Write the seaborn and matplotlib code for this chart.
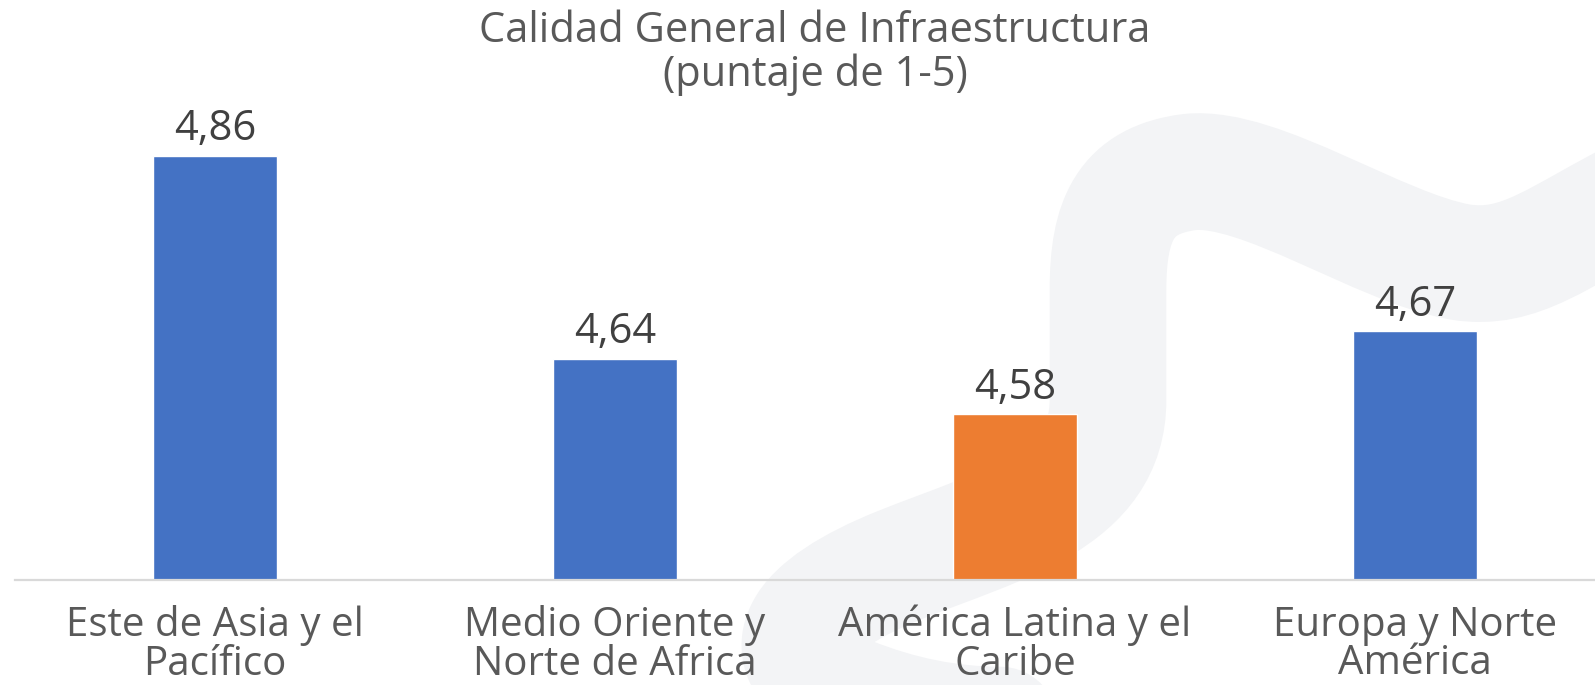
import matplotlib
matplotlib.use("Agg")
import matplotlib.pyplot as plt
from matplotlib.path import Path
from matplotlib.patches import PathPatch
import pandas as pd
import seaborn as sns

regions = [
    "Este de Asia y el\nPacífico",
    "Medio Oriente y\nNorte de Africa",
    "América Latina y el\nCaribe",
    "Europa y Norte\nAmérica",
]
scores = [4.86, 4.64, 4.58, 4.67]
bar_colors = ["#4472C4", "#4472C4", "#ED7D31", "#4472C4"]
title_lines = ["Calidad General de Infraestructura", "(puntaje de 1-5)"]

sns.set_style("white")
plt.rcParams["font.family"] = ["Open Sans", "DejaVu Sans"]

W, H = 1595, 685
fig = plt.figure(figsize=(W / 100, H / 100), dpi=100)

# decorative swoosh in the background (pixel coords, y downwards)
bg = fig.add_axes([0, 0, 1, 1], zorder=0)
bg.set_xlim(0, W)
bg.set_ylim(H, 0)
bg.axis("off")
verts = [
    (1640, 195),
    (1560, 235), (1520, 272), (1460, 262),
    (1380, 248), (1260, 165), (1190, 172),
    (1125, 180), (1108, 220), (1108, 290),
    (1108, 400),
    (1108, 500), (1000, 525), (900, 565),
    (800, 605), (760, 655), (850, 695),
    (900, 715), (950, 725), (1000, 725),
]
codes = [Path.MOVETO] + [Path.CURVE4] * 9 + [Path.LINETO] + [Path.CURVE4] * 9
bg.add_patch(PathPatch(Path(verts, codes), fill=False, edgecolor="#F3F4F6",
                       lw=84, capstyle="round", joinstyle="round"))

ax = fig.add_axes([15 / W, 1 - 580 / H, 1 - 15 / W, (580 - 27) / H], zorder=1)
ax.patch.set_alpha(0)

df = pd.DataFrame({"region": regions, "score": scores})
sns.barplot(data=df, x="region", y="score", hue="region", palette=bar_colors,
            dodge=False, legend=False, width=0.31, saturation=1, ax=ax)

ax.set_ylim(4.4, 5.0)
ax.set_xlim(-0.5, 3.45)
for cont, v in zip(ax.containers, scores):
    ax.bar_label(cont, labels=[f"{v:.2f}".replace(".", ",")], padding=4,
                 fontsize=30, color="#404040")

ax.set_xlabel("")
ax.set_ylabel("")
ax.set_yticks([])
ax.tick_params(axis="x", length=0, pad=18, labelsize=29, labelcolor="#595959")
for lbl in ax.get_xticklabels():
    lbl.set_linespacing(0.95)
for s in ["top", "left", "right"]:
    ax.spines[s].set_visible(False)
ax.spines["bottom"].set_color("#D9D9D9")
ax.spines["bottom"].set_linewidth(1.6)

fig.text(815 / W, 1 - 31 / H, title_lines[0], ha="center", va="center",
         fontsize=30, color="#595959")
fig.text(815 / W, 1 - 75 / H, title_lines[1], ha="center", va="center",
         fontsize=30, color="#595959")

fig.savefig("out.png", dpi=100)
